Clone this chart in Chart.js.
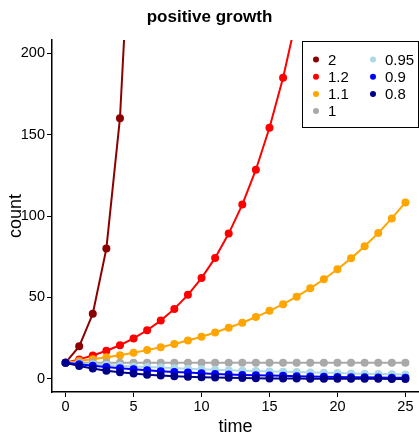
<!DOCTYPE html>
<html>
<head>
<meta charset="utf-8">
<script src="https://cdn.jsdelivr.net/npm/chart.js@4/dist/chart.umd.min.js"></script>
<style>
  html, body { margin: 0; padding: 0; background: #fff; }
  #wrap { width: 419px; height: 440px; }
</style>
</head>
<body>
<div id="wrap"><canvas id="chart" width="419" height="440"></canvas></div>
<script>
// time steps 0..25
const time = [0,1,2,3,4,5,6,7,8,9,10,11,12,13,14,15,16,17,18,19,20,21,22,23,24,25];

const rates = ["2", "1.2", "1.1", "1", "0.95", "0.9", "0.8"];
const colors = ["#8B0000", "#FF0000", "#FFA500", "#A9A9A9", "#ADD8E6", "#0000FF", "#00008B"];

// counts
const count2 = [10, 20, 40, 80, 160, 320, 640, 1280, 2560, 5120, 10240, 20480, 40960, 81920, 163840, 327680, 655360, 1310720, 2621440, 5242880, 10485760, 20971520, 41943040, 83886080, 167772160, 335544320];
const count12 = [10, 12, 14.4, 17.3, 20.7, 24.9, 29.9, 35.8, 43, 51.6, 61.9, 74.3, 89.2, 107, 128.4, 154.1, 184.9, 221.9, 266.2, 319.5, 383.4, 460.1, 552.1, 662.5, 795, 954];
const count11 = [10, 11, 12.1, 13.3, 14.6, 16.1, 17.7, 19.5, 21.4, 23.6, 25.9, 28.5, 31.4, 34.5, 38, 41.8, 45.9, 50.5, 55.6, 61.2, 67.3, 74, 81.4, 89.5, 98.5, 108.3];
const count1 = [10, 10, 10, 10, 10, 10, 10, 10, 10, 10, 10, 10, 10, 10, 10, 10, 10, 10, 10, 10, 10, 10, 10, 10, 10, 10];
const count095 = [10, 9.5, 9, 8.6, 8.1, 7.7, 7.4, 7, 6.6, 6.3, 6, 5.7, 5.4, 5.1, 4.9, 4.6, 4.4, 4.2, 4, 3.8, 3.6, 3.4, 3.2, 3.1, 2.9, 2.8];
const count09 = [10, 9, 8.1, 7.3, 6.6, 5.9, 5.3, 4.8, 4.3, 3.9, 3.5, 3.1, 2.8, 2.5, 2.3, 2.1, 1.9, 1.7, 1.5, 1.4, 1.2, 1.1, 1, 0.9, 0.8, 0.7];
const count08 = [10, 8, 6.4, 5.1, 4.1, 3.3, 2.6, 2.1, 1.7, 1.3, 1.1, 0.9, 0.7, 0.55, 0.44, 0.35, 0.28, 0.23, 0.18, 0.14, 0.12, 0.09, 0.07, 0.06, 0.05, 0.04];

const xTicks = [0, 5, 10, 15, 20, 25];
const yTicks = [0, 50, 100, 150, 200];

const seriesList = [count2, count12, count11, count1, count095, count09, count08];

const FONT = "'Liberation Sans', Arial, sans-serif";

const datasets = seriesList.map((vals, i) => ({
  label: rates[i],
  data: vals.map((v, j) => ({ x: time[j], y: v })),
  borderColor: colors[i],
  backgroundColor: colors[i],
  pointBackgroundColor: colors[i],
  pointBorderWidth: 0,
  pointRadius: 4,
  borderWidth: 2,
  tension: 0,
  order: seriesList.length - 1 - i   // later series drawn on top
}));

// let the plot run to the right edge of the canvas
const fullRight = {
  id: "fullRight",
  afterLayout(chart) {
    const x = chart.scales.x;
    const edge = chart.width;
    x.right = edge;
    x.width = edge - x.left;
    x.configure();
    chart.chartArea.right = edge;
    chart.chartArea.width = edge - chart.chartArea.left;
  }
};

// legend box in the top right corner, two columns
const boxLegend = {
  id: "boxLegend",
  afterDraw(chart) {
    const ctx = chart.ctx;
    const x0 = 302, y0 = 41, x1 = 419, y1 = 128;
    ctx.save();
    ctx.fillStyle = "#fff";
    ctx.fillRect(x0, y0, x1 - x0, y1 - y0);
    ctx.strokeStyle = "#000";
    ctx.lineWidth = 1;
    ctx.strokeRect(x0 + 0.5, y0 + 0.5, x1 - x0 - 1, y1 - y0 - 1);
    ctx.font = "15px " + FONT;
    ctx.textBaseline = "middle";
    chart.data.datasets.forEach((ds, i) => {
      const col = i < 4 ? 0 : 1;
      const row = i < 4 ? i : i - 4;
      const cx = 316 + col * 57;
      const cy = 59.5 + row * 17.2;
      ctx.fillStyle = ds.borderColor;
      ctx.beginPath();
      ctx.arc(cx, cy, 3, 0, Math.PI * 2);
      ctx.fill();
      ctx.fillStyle = "#000";
      ctx.fillText(ds.label, cx + 12, cy + 1);
    });
    ctx.restore();
  }
};

new Chart(document.getElementById("chart"), {
  type: "line",
  data: { datasets: datasets },
  plugins: [fullRight, boxLegend],
  options: {
    responsive: false,
    animation: false,
    layout: { padding: 0 },
    plugins: {
      legend: { display: false },
      tooltip: { enabled: false },
      title: {
        display: true,
        text: "positive growth",
        color: "#000",
        font: { family: FONT, size: 17, weight: "bold" },
        padding: { top: 7.5, bottom: 12.1 }
      }
    },
    scales: {
      x: {
        type: "linear",
        min: -1,
        max: 26,
        afterBuildTicks: (scale) => { scale.ticks = xTicks.map(v => ({ value: v })); },
        afterFit: (scale) => { scale.height = 48; },
        grid: { drawOnChartArea: false, drawTicks: true, tickLength: 5, color: "#000", lineWidth: 1 },
        border: { display: true, color: "#000", width: 1.5 },
        ticks: {
          color: "#000",
          padding: 1,
          maxRotation: 0,
          font: { family: FONT, size: 14.5 }
        },
        title: {
          display: true,
          text: "time",
          color: "#000",
          padding: { bottom: 2 },
          font: { family: FONT, size: 18 }
        }
      },
      y: {
        type: "linear",
        min: -8,
        max: 208,
        afterBuildTicks: (scale) => { scale.ticks = yTicks.map(v => ({ value: v })); },
        afterFit: (scale) => { scale.width = 52; },
        grid: { drawOnChartArea: false, drawTicks: true, tickLength: 5, color: "#000", lineWidth: 1 },
        border: { display: true, color: "#000", width: 1.5 },
        ticks: {
          color: "#000",
          padding: 2,
          font: { family: FONT, size: 14.5 }
        },
        title: {
          display: true,
          text: "count",
          color: "#000",
          padding: { top: 5 },
          font: { family: FONT, size: 18 }
        }
      }
    }
  }
});
</script>
</body>
</html>
